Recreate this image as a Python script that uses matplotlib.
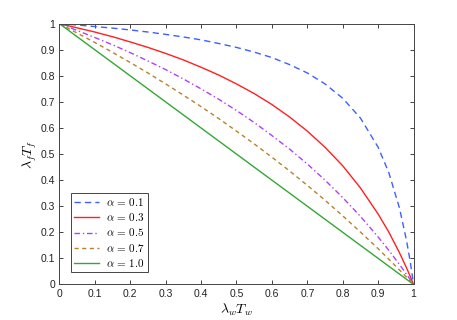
import matplotlib
matplotlib.use("Agg")
import matplotlib.pyplot as plt

plt.rcParams['font.family'] = ['Liberation Sans', 'DejaVu Sans']
plt.rcParams['mathtext.fontset'] = 'cm'

# values
x = [0, 0.05, 0.1, 0.15, 0.2, 0.25, 0.3, 0.35, 0.4, 0.45, 0.5, 0.55, 0.6,
     0.65, 0.7, 0.75, 0.8, 0.85, 0.9, 0.93, 0.96, 0.98, 0.99, 1.0]
y_a01 = [1, 0.995, 0.989, 0.983, 0.976, 0.968, 0.959, 0.949, 0.938, 0.924, 0.909, 0.891,
         0.870, 0.843, 0.811, 0.769, 0.714, 0.638, 0.526, 0.429, 0.294, 0.169, 0.092, 0]
y_a03 = [1, 0.984, 0.968, 0.950, 0.930, 0.909, 0.886, 0.861, 0.833, 0.803, 0.769, 0.732,
         0.690, 0.642, 0.588, 0.526, 0.455, 0.370, 0.270, 0.201, 0.122, 0.064, 0.033, 0]
y_a05 = [1, 0.974, 0.947, 0.919, 0.889, 0.857, 0.824, 0.788, 0.750, 0.710, 0.667, 0.621,
         0.571, 0.519, 0.462, 0.400, 0.333, 0.261, 0.182, 0.131, 0.077, 0.039, 0.020, 0]
y_a07 = [1, 0.964, 0.928, 0.890, 0.851, 0.811, 0.769, 0.726, 0.682, 0.636, 0.588, 0.539,
         0.488, 0.435, 0.380, 0.323, 0.263, 0.201, 0.137, 0.097, 0.056, 0.028, 0.014, 0]
y_a10 = [1, 0.95, 0.9, 0.85, 0.8, 0.75, 0.7, 0.65, 0.6, 0.55, 0.5, 0.45,
         0.4, 0.35, 0.3, 0.25, 0.2, 0.15, 0.1, 0.07, 0.04, 0.02, 0.01, 0]
labels = [r'$\alpha\,=\,0.1$', r'$\alpha\,=\,0.3$', r'$\alpha\,=\,0.5$', r'$\alpha\,=\,0.7$', r'$\alpha\,=\,1.0$']
ticklabels = ['0', '0.1', '0.2', '0.3', '0.4', '0.5', '0.6', '0.7', '0.8', '0.9', '1']

fig = plt.figure(figsize=(4.57, 3.2), dpi=100)
ax = fig.add_axes([0.13, 0.111, 0.775, 0.815])

ax.plot(x, y_a01, '--', color='#3f5fff', lw=1.0, dashes=(4.5, 3), label=labels[0])
ax.plot(x, y_a03, '-', color='#ff2020', lw=1.0, label=labels[1])
ax.plot(x, y_a05, '-.', color='#b040ff', lw=1.0, dashes=(4, 2, 1, 2), label=labels[2])
ax.plot(x, y_a07, '--', color='#b5822e', lw=1.0, dashes=(3, 2.5), label=labels[3])
ax.plot(x, y_a10, '-', color='#33a833', lw=1.0, label=labels[4])

ax.set_xlim(0, 1)
ax.set_ylim(0, 1)
ax.set_xticks([i / 10 for i in range(11)])
ax.set_yticks([i / 10 for i in range(11)])
ax.set_xticklabels(ticklabels)
ax.set_yticklabels(ticklabels)
ax.tick_params(direction='in', top=True, right=True, length=3, width=0.6,
               labelsize=7.5, colors='#222222', pad=3)
for s in ax.spines.values():
    s.set_linewidth(0.7)
    s.set_color('#444444')

ax.set_xlabel(r'$\lambda_w T_w$', fontsize=10, labelpad=2)
ax.set_ylabel(r'$\lambda_f T_f$', fontsize=10, labelpad=1)

leg = ax.legend(loc='lower left', bbox_to_anchor=(0.022, 0.035), fontsize=8,
                fancybox=False, edgecolor='#444444', framealpha=1,
                handlelength=2.3, handletextpad=0.6, labelspacing=0.28, borderpad=0.3,
                borderaxespad=0.3)
leg.get_frame().set_linewidth(0.7)

fig.savefig('out.png', dpi=100)
